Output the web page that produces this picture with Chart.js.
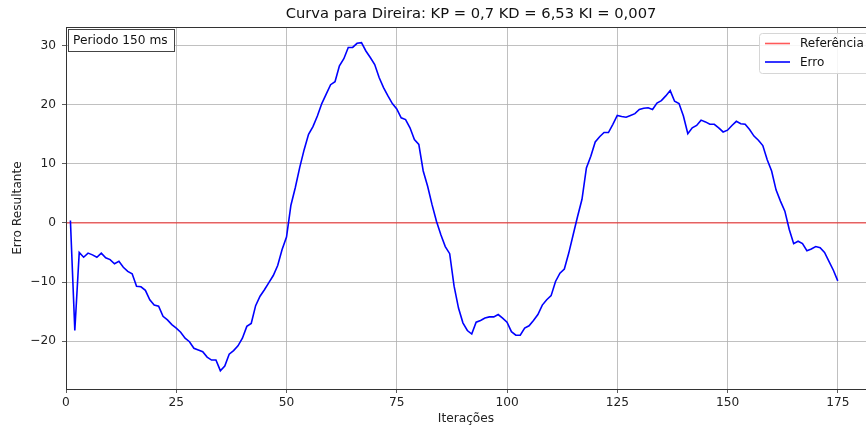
<!DOCTYPE html>
<html><head><meta charset="utf-8">
<script src="https://cdn.jsdelivr.net/npm/chart.js@4/dist/chart.umd.min.js"></script>
<style>html,body{margin:0;padding:0;background:#fff;overflow:hidden}</style>
</head><body>
<canvas id="c" width="866" height="428" style="width:866px;height:428px;display:block"></canvas>
<script>
// ---- data ----
const chartTitle = 'Curva para Direira: KP = 0,7 KD = 6,53 KI = 0,007';
const xLabel = 'Iterações';
const yLabel = 'Erro Resultante';
const noteText = 'Periodo 150 ms';
const seriesNames = ['Referência', 'Erro'];
const firstIteration = 1;
const erro = [
  0.4, -18.2, -5.0, -5.8, -5.1, -5.4, -5.8, -5.1, -5.9, -6.2,
  -6.9, -6.5, -7.5, -8.2, -8.6, -10.7, -10.8, -11.4, -13.0, -13.9,
  -14.1, -15.8, -16.4, -17.2, -17.8, -18.5, -19.5, -20.1, -21.2, -21.5,
  -21.8, -22.7, -23.2, -23.2, -25.0, -24.2, -22.2, -21.6, -20.8, -19.5,
  -17.5, -17.0, -14.0, -12.4, -11.3, -10.1, -8.9, -7.2, -4.5, -2.4,
  3.0, 6.0, 9.4, 12.4, 15.0, 16.3, 18.1, 20.2, 21.8, 23.4,
  23.9, 26.6, 27.8, 29.7, 29.7, 30.4, 30.5, 29.1, 28.0, 26.8,
  24.6, 22.9, 21.5, 20.2, 19.3, 17.8, 17.5, 16.1, 14.1, 13.3,
  8.8, 6.2, 3.1, 0.3, -2.0, -4.0, -5.2, -10.7, -14.4, -16.9,
  -18.2, -18.8, -16.8, -16.5, -16.1, -15.9, -15.9, -15.5, -16.1, -16.8,
  -18.4, -19.0, -19.0, -17.8, -17.4, -16.5, -15.5, -13.9, -13.0, -12.3,
  -9.9, -8.5, -7.8, -5.1, -2.0, 1.1, 4.0, 9.3, 11.3, 13.7,
  14.6, 15.3, 15.3, 16.7, 18.2, 18.0, 17.9, 18.2, 18.5, 19.2,
  19.4, 19.5, 19.2, 20.3, 20.7, 21.5, 22.4, 20.6, 20.2, 18.1,
  15.1, 16.1, 16.5, 17.4, 17.1, 16.7, 16.7, 16.1, 15.4, 15.7,
  16.5, 17.2, 16.8, 16.7, 15.8, 14.7, 14.0, 13.1, 10.7, 8.8,
  5.6, 3.7, 2.0, -1.1, -3.5, -3.1, -3.5, -4.7, -4.4, -4.0,
  -4.2, -5.0, -6.5, -8.0, -9.8
];
const referencia = 0;
const xTicks = [0, 25, 50, 75, 100, 125, 150, 175];
const yTicks = [-20, -10, 0, 10, 20, 30];
const xRange = [0, 181.4];
const yRange = [-28.1, 33.16];

// ---- build ----
const FONT = "'DejaVu Sans', sans-serif";
const FS = 12.2;
Chart.defaults.font.family = FONT;
Chart.defaults.color = '#222';

const erroPts = erro.map((v, i) => ({x: firstIteration + i, y: v}));
const refPts = [{x: xRange[0], y: referencia}, {x: xRange[1], y: referencia}];
const colors = ['rgba(255,0,0,0.65)', '#0000ff'];

const fmt = v => (v < 0 ? '\u2212' + Math.abs(v) : String(v));

const decor = {
  id: 'decor',
  afterDraw(chart) {
    const {ctx, chartArea: a} = chart;
    ctx.save();
    // spines
    ctx.strokeStyle = '#333';
    ctx.lineWidth = 1;
    ctx.strokeRect(a.left + 0.5, a.top + 0.5, a.right - a.left + 10, a.bottom - a.top);
    // title
    ctx.fillStyle = '#111';
    ctx.font = '14.7px ' + FONT;
    ctx.textAlign = 'center';
    ctx.textBaseline = 'middle';
    ctx.fillText(chartTitle, 471, 14);
    // note box
    ctx.font = FS + 'px ' + FONT;
    ctx.textAlign = 'left';
    ctx.fillStyle = '#fff';
    ctx.fillRect(68.5, 29.5, 106, 22);
    ctx.strokeStyle = '#444';
    ctx.strokeRect(68.5, 29.5, 106, 22);
    ctx.fillStyle = '#111';
    ctx.fillText(noteText, 73, 41);
    // legend
    const lx = 759.5, ly = 33.5, lw = 130, lh = 40;
    ctx.fillStyle = 'rgba(255,255,255,0.85)';
    ctx.strokeStyle = '#d6d6d6';
    ctx.beginPath();
    ctx.roundRect(lx, ly, lw, lh, 3);
    ctx.fill();
    ctx.stroke();
    const rows = [43.5, 62];
    chart.data.datasets.forEach((ds, i) => {
      ctx.strokeStyle = ds.borderColor;
      ctx.lineWidth = 1.6;
      ctx.beginPath();
      ctx.moveTo(765, rows[i]);
      ctx.lineTo(790, rows[i]);
      ctx.stroke();
      ctx.fillStyle = '#111';
      ctx.font = '12px ' + FONT;
      ctx.textAlign = 'left';
      ctx.textBaseline = 'middle';
      ctx.fillText(ds.label, 800, rows[i] + 0.5);
    });
    ctx.restore();
  }
};

new Chart(document.getElementById('c'), {
  type: 'line',
  data: {
    datasets: [
      {label: seriesNames[0], data: refPts, borderColor: colors[0], borderWidth: 1.3,
       pointRadius: 0, order: 1, tension: 0},
      {label: seriesNames[1], data: erroPts, borderColor: colors[1], borderWidth: 1.6,
       pointRadius: 0, order: 0, tension: 0}
    ]
  },
  options: {
    responsive: false,
    animation: false,
    events: [],
    layout: {padding: {top: 27, left: 0, right: 0, bottom: 0}},
    plugins: {legend: {display: false}, title: {display: false}, tooltip: {enabled: false}},
    scales: {
      x: {
        type: 'linear', min: xRange[0], max: xRange[1],
        afterFit: s => { s.height = 39; },
        afterBuildTicks: s => { s.ticks = xTicks.map(v => ({value: v})); },
        grid: {color: '#b0b0b0', lineWidth: 0.8, tickColor: '#333', tickLength: 4, drawTicks: true},
        border: {display: false},
        ticks: {font: {size: FS}, color: '#222', padding: 3, maxRotation: 0, callback: v => fmt(v)},
        title: {display: true, text: xLabel, font: {size: FS}, color: '#222', padding: {top: 0, bottom: 2}}
      },
      y: {
        type: 'linear', min: yRange[0], max: yRange[1],
        afterFit: s => { s.width = 66; },
        afterBuildTicks: s => { s.ticks = yTicks.map(v => ({value: v})); },
        grid: {color: '#b0b0b0', lineWidth: 0.8, tickColor: '#333', tickLength: 4, drawTicks: true},
        border: {display: false},
        ticks: {font: {size: FS}, color: '#222', padding: 6, callback: v => fmt(v)},
        title: {display: true, text: yLabel, font: {size: FS}, color: '#222', padding: {top: 11, bottom: 0}}
      }
    }
  },
  plugins: [decor]
});
</script>
</body></html>
